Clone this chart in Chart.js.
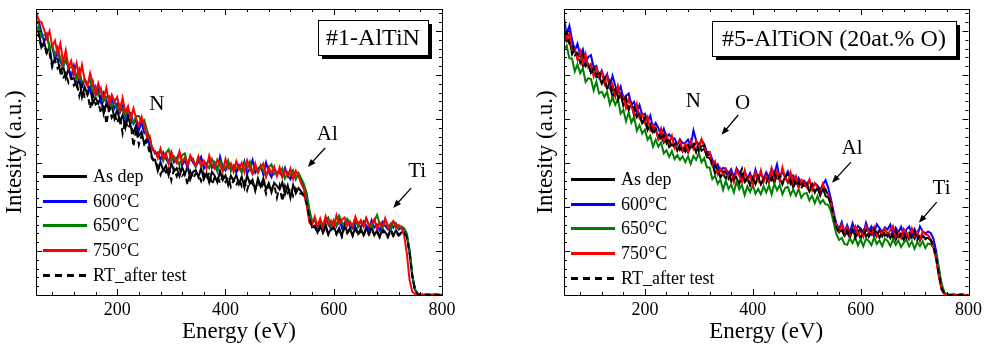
<!DOCTYPE html>
<html>
<head>
<meta charset="utf-8">
<script src="https://cdn.jsdelivr.net/npm/chart.js@4.4.1/dist/chart.umd.min.js"></script>
<style>
html, body { margin: 0; padding: 0; background: #fff; width: 986px; height: 346px; overflow: hidden; }
.panel { position: absolute; top: 0; width: 493px; height: 346px; }
</style>
</head>
<body>
<div class="panel" style="left:0"><canvas id="c1" width="493" height="346"></canvas></div>
<div class="panel" style="left:493px"><canvas id="c2" width="493" height="346"></canvas></div>
<script>
// Energy grid (eV), one sample every 5 eV
const energy = [50,55,60,65,70,75,80,85,90,95,100,105,110,115,120,
125,130,135,140,145,150,155,160,165,170,175,180,185,190,195,
200,205,210,215,220,225,230,235,240,245,250,255,260,265,270,
275,280,285,290,295,300,305,310,315,320,325,330,335,340,345,
350,355,360,365,370,375,380,385,390,395,400,405,410,415,420,
425,430,435,440,445,450,455,460,465,470,475,480,485,490,495,
500,505,510,515,520,525,530,535,540,545,550,555,560,565,570,
575,580,585,590,595,600,605,610,615,620,625,630,635,640,645,
650,655,660,665,670,675,680,685,690,695,700,705,710,715,720,
725,730,735,740,745,750,755,760,765,770,775,780,785,790,795,800];

const seriesNames = ['As dep', '600\u00B0C', '650\u00B0C', '750\u00B0C', 'RT_after test'];
const xTickStep = 200;

// ---- #1-AlTiN spectra (intensity, arbitrary units) ----
const altinAsDep = [598,600,563,575,550,565,522,537,537,506,521,493,514,491,493,
475,491,450,473,455,473,436,449,435,451,412,436,419,430,401,
422,394,409,380,407,383,369,386,362,371,343,357,339,310,307,
282,302,283,294,272,300,281,288,270,291,273,293,263,280,284,
268,288,263,277,256,280,271,256,282,261,272,250,271,259,273,
252,269,244,272,253,262,237,265,247,265,240,254,233,255,248,
240,256,229,249,221,250,231,243,235,228,210,178,154,158,142,
157,142,160,138,151,157,139,152,134,160,143,152,135,155,139,
151,136,154,140,155,136,147,132,150,143,133,151,135,147,137,
142,143,134,98,44,12,2,1,0,0,1,0,0,1,0,0];
const altin600 = [615,623,598,575,592,563,565,534,560,531,519,534,517,496,521,
490,508,474,490,478,462,484,454,466,439,459,441,428,445,424,
435,415,429,400,412,414,389,398,374,393,368,367,339,335,321,
324,307,324,310,299,323,302,311,323,295,306,290,314,301,292,
303,314,287,298,308,289,301,282,314,291,283,301,285,294,278,
295,281,303,276,287,307,278,287,293,273,301,279,268,289,275,
280,269,289,272,263,281,268,272,259,246,218,182,163,172,153,
166,154,173,161,151,169,156,174,152,164,171,157,151,167,159,
154,167,158,149,170,153,160,147,166,157,149,161,153,163,149,
153,150,137,100,45,12,3,1,0,1,0,0,1,0,0,0];
const altin650 = [597,612,587,590,594,559,568,545,560,538,520,538,515,518,517,
495,513,481,490,481,488,458,474,454,469,440,450,452,429,440,
423,433,422,405,423,405,391,407,407,393,398,375,356,331,324,
321,329,305,322,331,305,315,308,295,318,322,297,308,310,291,
312,292,304,297,288,309,296,282,304,296,287,306,281,295,289,
292,278,300,288,303,278,289,278,295,282,269,290,297,274,280,
277,288,265,279,272,283,263,277,265,252,232,195,168,170,157,
164,154,171,176,156,169,159,180,166,153,173,164,158,175,154,
167,157,174,161,154,168,182,161,150,171,159,148,166,161,152,
156,152,140,102,48,13,3,1,0,1,0,0,1,0,0,0];
const altin750 = [646,623,620,603,583,600,565,578,547,572,529,556,517,532,500,
527,494,523,487,475,504,480,455,481,461,447,471,435,455,440,
450,420,448,415,429,400,424,401,385,405,385,358,362,329,327,
311,333,311,322,299,325,311,300,326,301,313,294,317,305,294,
315,294,305,287,317,296,287,308,297,281,309,288,299,280,304,
286,300,279,306,288,275,299,278,290,299,269,290,277,292,270,
290,268,284,270,287,263,282,270,253,240,205,165,159,178,157,
174,156,179,161,169,154,181,162,171,176,157,167,156,178,161,
170,155,175,156,163,172,152,165,156,174,152,161,168,153,159,
153,136,95,35,8,2,1,0,1,0,0,1,0,0,1,0];
const altinRT = [588,592,559,573,545,549,518,535,515,523,492,504,483,497,476,
485,452,477,447,461,424,454,433,438,413,435,389,424,403,414,
391,408,367,398,378,391,337,378,341,362,343,348,322,309,300,
295,273,288,279,291,260,286,270,289,271,278,250,281,265,276,
275,259,276,262,278,251,267,270,254,271,257,267,246,262,249,
265,247,258,238,259,253,239,260,242,253,230,252,240,252,221,
248,213,248,232,243,225,242,230,231,225,207,176,152,155,141,
153,141,155,137,148,152,137,149,133,155,140,149,134,150,136,
146,134,149,137,150,135,142,131,146,140,131,146,134,142,135,
140,141,132,96,44,12,2,1,0,0,1,0,0,1,0,0];

// ---- #5-AlTiON (20 at.% O) spectra ----
const altionAsDep = [601,576,582,547,558,538,550,519,526,525,505,518,495,497,480,
492,469,475,450,467,450,458,430,441,422,435,407,412,413,390,
396,375,387,370,379,354,364,347,358,336,342,344,328,341,326,
337,324,337,343,324,342,328,333,313,311,299,276,288,267,276,
264,277,258,272,266,252,275,257,266,250,267,252,269,251,262,
268,256,272,254,276,264,253,269,255,264,244,259,245,258,248,
249,235,248,235,243,226,242,225,222,205,177,152,142,148,134,
143,130,148,135,145,128,146,133,141,148,131,143,130,145,135,
141,129,142,125,138,136,125,142,127,138,128,139,123,135,128,
130,124,110,84,46,15,3,1,0,0,1,0,0,1,0,0];
const altion600 = [629,593,612,580,556,571,545,558,529,541,545,517,521,496,510,
491,502,474,498,476,460,474,446,453,458,432,439,416,432,409,
412,394,408,379,391,379,364,378,359,365,355,356,341,354,345,
346,353,339,374,351,339,353,343,325,325,308,290,297,282,289,
287,275,286,267,288,278,265,281,265,277,258,285,265,276,265,
279,267,287,276,297,265,281,267,281,269,272,255,266,252,260,
252,261,244,254,249,240,251,261,243,218,188,162,150,166,143,
159,142,163,144,157,151,139,164,146,156,141,161,152,142,154,
149,160,139,153,142,155,136,149,156,138,150,133,156,145,140,
144,141,128,100,60,22,5,1,0,1,0,0,1,0,0,0];
const altion650 = [559,567,538,537,508,524,504,515,484,493,491,465,485,458,462,
450,462,433,449,432,445,412,421,395,415,392,405,373,386,367,
376,353,362,337,353,337,347,322,329,314,327,309,318,307,315,
302,315,298,316,307,322,302,311,290,290,263,271,253,262,239,
260,241,251,233,258,240,250,227,247,234,250,230,241,229,247,
233,249,229,253,238,250,229,243,246,227,240,226,241,221,230,
232,215,226,209,225,208,216,206,205,190,164,138,125,130,116,
114,129,118,131,113,126,111,128,123,113,131,116,124,111,128,
123,111,126,114,124,109,119,126,111,122,105,120,111,122,107,
117,115,108,92,62,26,7,1,0,1,0,0,1,0,0,0];
const altion750 = [616,580,595,558,560,535,554,527,548,518,525,497,516,497,508,
480,497,471,480,451,476,449,453,425,445,429,411,434,402,411,
392,405,375,387,375,356,378,351,364,346,362,334,344,351,328,
345,327,351,332,350,331,354,337,318,324,295,304,274,287,274,
287,266,279,256,284,271,257,283,260,271,251,277,260,283,257,
271,257,288,265,282,259,290,267,257,279,255,270,246,262,255,
245,262,238,254,245,233,253,238,228,210,182,158,145,160,138,
154,136,149,157,136,146,132,157,144,137,154,133,148,138,151,
135,148,157,132,142,129,150,140,130,151,134,144,126,144,138,
136,127,108,80,42,12,2,1,0,1,0,0,1,0,0,0];
const altionRT = [591,596,571,573,545,550,528,546,520,526,502,516,499,510,483,
492,468,486,461,468,443,458,439,448,421,428,427,404,413,389,
403,380,386,365,377,367,351,364,345,357,334,343,345,330,339,
326,341,329,341,346,327,338,340,319,317,291,296,283,269,281,
278,264,275,263,270,274,287,255,269,250,264,256,269,253,264,
255,271,261,276,259,271,252,268,274,253,264,247,257,242,258,
253,239,252,233,246,233,239,240,224,207,179,154,144,149,136,
147,135,148,130,145,150,137,147,132,143,150,135,147,133,145,
133,144,131,145,128,140,142,129,141,130,143,125,137,134,127,
132,125,112,86,48,16,3,1,0,0,1,0,0,1,0,0];

const FONT = '"Liberation Serif", "Times New Roman", serif';
const seriesColors = ['#000000', '#0000ff', '#008000', '#ff0000', '#000000'];
const seriesDash = [[], [], [], [], [6, 4]];
// drawing priority: lower order is painted on top
const seriesOrder = [4, 3, 2, 1, 0];

function drawArrow(ctx, x0, y0, x1, y1) {
  const ang = Math.atan2(y1 - y0, x1 - x0), head = 8, half = 3.2;
  const c = Math.cos(ang), s = Math.sin(ang);
  ctx.beginPath();
  ctx.moveTo(x0, y0);
  ctx.lineTo(x1 - c * head * 0.7, y1 - s * head * 0.7);
  ctx.stroke();
  ctx.beginPath();
  ctx.moveTo(x1, y1);
  ctx.lineTo(x1 - head * c + half * s, y1 - head * s - half * c);
  ctx.lineTo(x1 - head * c - half * s, y1 - head * s + half * c);
  ctx.closePath();
  ctx.fill();
}

const decor = {
  id: 'decor',
  afterDatasetsDraw(chart, args, o) {
    const { ctx, chartArea: a, scales: { x, y } } = chart;
    ctx.save();
    ctx.fillStyle = '#000';
    ctx.strokeStyle = '#000';
    // element edge labels and arrows
    ctx.font = '21px ' + FONT;
    ctx.textAlign = 'center';
    ctx.textBaseline = 'middle';
    o.marks.forEach(m => ctx.fillText(m.text, x.getPixelForValue(m.e), y.getPixelForValue(m.v)));
    ctx.lineWidth = 1.3;
    o.arrows.forEach(r => drawArrow(ctx,
      x.getPixelForValue(r.from[0]), y.getPixelForValue(r.from[1]),
      x.getPixelForValue(r.to[0]), y.getPixelForValue(r.to[1])));
    // sample name box with drop shadow
    ctx.font = '24px ' + FONT;
    const tw = ctx.measureText(o.sample).width;
    const bw = Math.round(tw + 2 * o.boxPad), bh = 35;
    const bx = Math.round(a.right - o.boxRight - bw), by = Math.round(a.top + o.boxTop);
    ctx.fillRect(bx + 4, by + 4, bw, bh);
    ctx.fillStyle = '#fff';
    ctx.fillRect(bx, by, bw, bh);
    ctx.lineWidth = 1;
    ctx.strokeRect(bx + 0.5, by + 0.5, bw, bh);
    ctx.fillStyle = '#000';
    ctx.fillText(o.sample, bx + bw / 2, by + bh / 2 + 1);
    // legend
    ctx.font = '18px ' + FONT;
    ctx.textAlign = 'left';
    chart.data.datasets.forEach((ds, i) => {
      const yy = Math.round(a.top + o.legendTop + i * 24.7) + 0.5;
      ctx.strokeStyle = ds.borderColor;
      ctx.lineWidth = 3;
      ctx.setLineDash(ds.borderDash.length ? [7, 5] : []);
      ctx.beginPath();
      ctx.moveTo(a.left + 7, yy);
      ctx.lineTo(a.left + 51, yy);
      ctx.stroke();
      ctx.setLineDash([]);
      ctx.fillStyle = '#000';
      ctx.fillText(ds.label, a.left + 57, yy + 1);
    });
    ctx.restore();
  },
  afterDraw(chart) {
    // closed frame with inward major/minor ticks on all four sides
    const { ctx, chartArea: a, scales: { x, y } } = chart;
    ctx.save();
    ctx.strokeStyle = '#000';
    ctx.lineWidth = 1;
    ctx.beginPath();
    for (let e = 80; e < 800; e += 40) {
      const px = Math.round(x.getPixelForValue(e)) + 0.5;
      const L = e % 200 === 0 ? 6 : 3;
      ctx.moveTo(px, a.bottom); ctx.lineTo(px, a.bottom - L);
      ctx.moveTo(px, a.top); ctx.lineTo(px, a.top + L);
    }
    for (let v = 20; v < 650; v += 20) {
      const py = Math.round(y.getPixelForValue(v)) + 0.5;
      const L = v % 100 === 0 ? 6 : 3;
      ctx.moveTo(a.left, py); ctx.lineTo(a.left + L, py);
      ctx.moveTo(a.right, py); ctx.lineTo(a.right - L, py);
    }
    ctx.stroke();
    ctx.strokeRect(Math.round(a.left) + 0.5, Math.round(a.top) + 0.5,
      Math.round(a.right - a.left), Math.round(a.bottom - a.top));
    ctx.restore();
  }
};

function makePanel(id, series, deco, pad, yWidth) {
  const datasets = series.map((vals, i) => ({
    label: seriesNames[i],
    data: energy.map((e, k) => ({ x: e, y: vals[k] })),
    borderColor: seriesColors[i],
    borderDash: seriesDash[i],
    borderWidth: 2,
    pointRadius: 0,
    tension: 0,
    fill: false,
    order: seriesOrder[i]
  }));
  return new Chart(document.getElementById(id), {
    type: 'line',
    data: { datasets },
    plugins: [decor],
    options: {
      responsive: false,
      animation: false,
      devicePixelRatio: 1,
      layout: { padding: { left: pad.left, right: pad.right, top: 9, bottom: 0 } },
      plugins: { legend: { display: false }, tooltip: { enabled: false }, decor: deco },
      scales: {
        x: {
          type: 'linear', min: 50, max: 800,
          grid: { display: false, drawTicks: false },
          border: { display: false },
          ticks: { stepSize: xTickStep, includeBounds: false, color: '#000', font: { family: FONT, size: 18 }, padding: 4, maxRotation: 0 },
          title: { display: true, text: 'Energy (eV)', color: '#000', font: { family: FONT, size: 23 }, padding: { top: 1, bottom: 0 } },
          afterFit(s) { s.height = 51; }
        },
        y: {
          type: 'linear', min: 0, max: 650,
          grid: { display: false, drawTicks: false },
          border: { display: false },
          ticks: { display: false },
          title: { display: true, text: 'Intesity (a.u.)', color: '#000', font: { family: FONT, size: 23 }, padding: { top: 1, bottom: 0 } },
          afterFit(s) { s.width = yWidth; }
        }
      }
    }
  });
}

makePanel('c1', [altinAsDep, altin600, altin650, altin750, altinRT], {
  sample: '#1-AlTiN', boxPad: 8, boxRight: 14, boxTop: 11, legendTop: 167,
  marks: [{ text: 'N', e: 273, v: 432 }, { text: 'Al', e: 588, v: 364 }, { text: 'Ti', e: 754, v: 280 }],
  arrows: [{ from: [584, 334], to: [552, 291] }, { from: [743, 243], to: [710, 198] }]
}, { left: 0, right: 51 }, 36);

makePanel('c2', [altionAsDep, altion600, altion650, altion750, altionRT], {
  sample: '#5-AlTiON (20at.% O)', boxPad: 10, boxRight: 13, boxTop: 12, legendTop: 170,
  marks: [{ text: 'N', e: 290, v: 439 }, { text: 'O', e: 381, v: 436 }, { text: 'Al', e: 584, v: 332 }, { text: 'Ti', e: 750, v: 243 }],
  arrows: [{ from: [373, 409], to: [342, 364] }, { from: [582, 302], to: [547, 255] }, { from: [741, 211], to: [708, 164] }]
}, { left: 38, right: 15 }, 33);
</script>
</body>
</html>
